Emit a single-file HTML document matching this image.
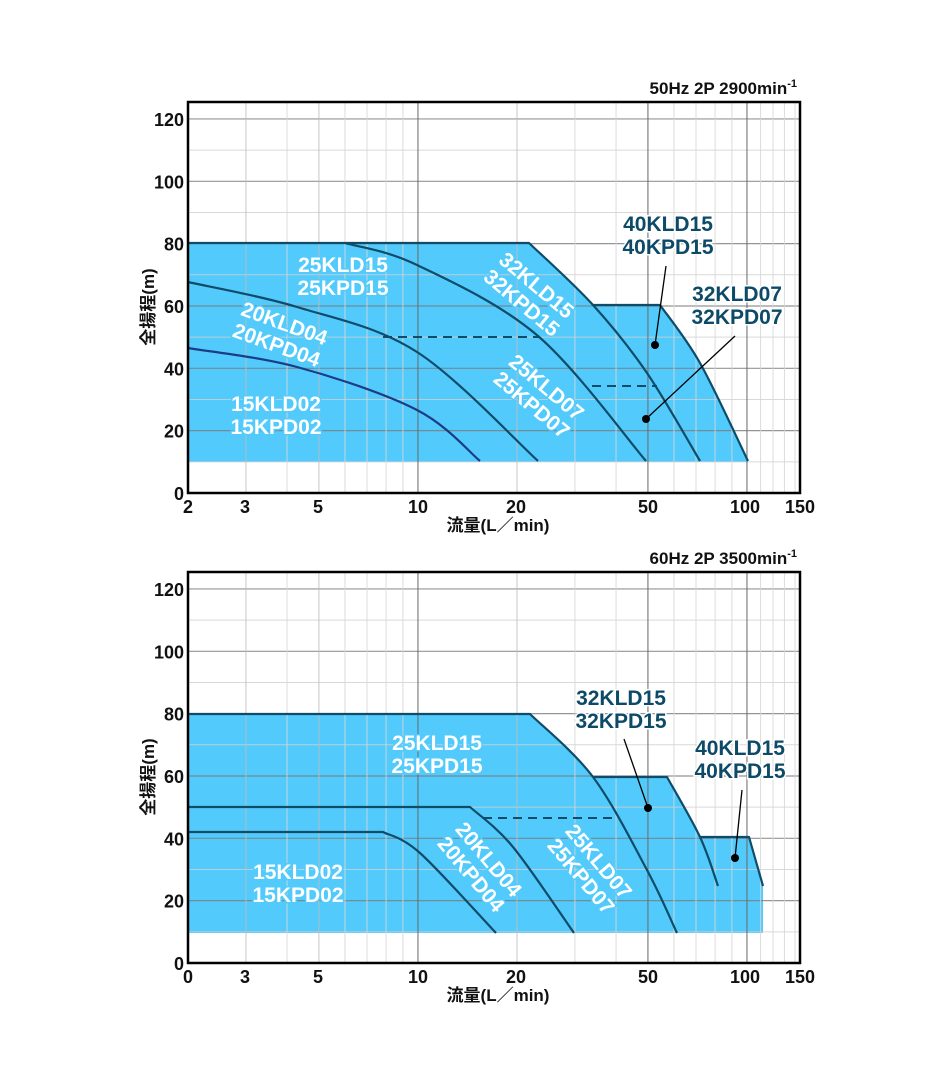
<!DOCTYPE html>
<html><head><meta charset="utf-8"><style>
html,body{margin:0;padding:0;background:#fff;}
svg{display:block;font-family:"Liberation Sans","Noto Sans CJK JP",sans-serif;font-weight:bold;}
</style></head><body>
<svg id="s" width="949" height="1078" viewBox="0 0 949 1078" xmlns="http://www.w3.org/2000/svg">
<g id="top"></g>
<g id="bot"></g>
</svg>
<script>
const NS="http://www.w3.org/2000/svg";
const S=document.getElementById('s');
function el(tag,attrs,parent,text){const e=document.createElementNS(NS,tag);for(const k in attrs)e.setAttribute(k,attrs[k]);if(text!==undefined)e.textContent=text;(parent||S).appendChild(e);return e;}
const X0=188,X1=800,K=329;
function xq(q){return X0+(Math.log10(q)-Math.log10(2))*K;}
function cr(pts,nseg){let d="";const n=nseg||pts.length-1;for(let i=0;i<n;i++){const p0=pts[Math.max(i-1,0)],p1=pts[i],p2=pts[i+1],p3=pts[Math.min(i+2,pts.length-1)];
const c1=[p1[0]+(p2[0]-p0[0])/6,p1[1]+(p2[1]-p0[1])/6],c2=[p2[0]-(p3[0]-p1[0])/6,p2[1]-(p3[1]-p1[1])/6];
d+=` C${c1[0].toFixed(1)},${c1[1].toFixed(1)} ${c2[0].toFixed(1)},${c2[1].toFixed(1)} ${p2[0]},${p2[1]}`;}return d;}
const FILL="#52cbfc",LINE="#0f4c6a",DARK="#0d4a68";
function grid(off,g){
  const y=v=>493+off-v*3.117;
  for(let v=10;v<=120;v+=10){const maj=v%20==0;el('line',{x1:X0,x2:X1,y1:y(v),y2:y(v),stroke:maj?'#7a7a7a':'#cfcfcf','stroke-width':maj?1.2:1,'stroke-opacity':0.8},g);}
  const qs=[3,4,5,6,7,8,9,10,20,30,40,50,60,70,80,90,100,110,120,130,140];
  for(const q of qs){const x=xq(q);if(x>X1)continue;const maj=(q==10||q==50||q==100);
    el('line',{x1:x,x2:x,y1:102+off,y2:493+off,stroke:maj?'#6a6a6a':(q==3||q==5||q==20)?'#bdbdbd':'#d6d6d6','stroke-width':maj?1.2:1,'stroke-opacity':0.85},g);}
}
function frame(off,g,title,first){
  const y=v=>493+off-v*3.117;
  el('rect',{x:X0,y:102+off,width:X1-X0,height:391,fill:'none',stroke:'#000','stroke-width':2.5},g);
  for(let v=0;v<=120;v+=20){el('text',{x:184,y:y(v)+7,'text-anchor':'end','font-size':18,fill:'#111'},g,String(v));}
  const xl=[[first,188],['3',245],['5',318],['10',418],['20',516],['50',648],['100',745],['150',800]];
  for(const [t,x] of xl)el('text',{x:x,y:513+off,'text-anchor':'middle','font-size':18,fill:'#111'},g,t);
  el('text',{x:498,y:531+off,'text-anchor':'middle','font-size':17,fill:'#111'},g,'流量(L／min)');
  el('text',{x:0,y:0,'text-anchor':'middle','font-size':17,fill:'#111',transform:`translate(154,${307+off}) rotate(-90)`},g,'全揚程(m)');
  const t=el('text',{x:797,y:94+off,'text-anchor':'end','font-size':17,fill:'#111'},g,title);
  el('tspan',{'font-size':11,dy:-7},t,'-1');
}
function lbl(g,x,y,l1,l2,rot,col){
  const bg=col=='#fff'?FILL:'#fff';
  const t=el('text',{'text-anchor':'middle','font-size':21,fill:col,stroke:bg,'stroke-width':3,'paint-order':'stroke',transform:`translate(${x},${y}) rotate(${rot})`},g);
  el('tspan',{x:0,y:-3},t,l1);el('tspan',{x:0,y:20},t,l2);
}
function path(g,d,color,w,extra){const a={d:d,fill:'none',stroke:color||LINE,'stroke-width':w||2.2,'stroke-linejoin':'round'};Object.assign(a,extra||{});el('path',a,g);}
function dot(g,x,y,x2,y2){el('line',{x1:x,y1:y,x2:x2,y2:y2,stroke:'#000','stroke-width':1.3},g);el('circle',{cx:x,cy:y,r:4,fill:'#000'},g);}

// ===== TOP =====
const T=document.getElementById('top');
const c32=[[529,243],[593,305],[647,373],[700,461]];
const outer=[[660,305],[700,363],[748,461]];
el('path',{d:`M188,243 L529,243`+cr(c32,1)+` L660,305`+cr(outer)+` L748,462 L188,462 Z`,fill:FILL},T);
grid(0,T);
path(T,`M188,243 L529,243`+cr(c32));
path(T,`M593,305 L660,305`+cr(outer));
path(T,'M188,348'+cr([[188,348],[297,367],[417,410],[480,461]]),'#1c3d86');
path(T,'M188,282'+cr([[188,282],[297,307],[417,352],[538,461]]));
path(T,'M345,243'+cr([[345,243],[417,265],[538,336],[646,461]]));
path(T,'M383,337 L540,337',LINE,2,{'stroke-dasharray':'9,6'});
path(T,'M592,386 L657,386',LINE,2,{'stroke-dasharray':'9,6'});
lbl(T,343,275,'25KLD15','25KPD15',0,'#fff');
lbl(T,281,333,'20KLD04','20KPD04',20,'#fff');
lbl(T,276,414,'15KLD02','15KPD02',0,'#fff');
lbl(T,530,293,'32KLD15','32KPD15',40,'#fff');
lbl(T,540,395,'25KLD07','25KPD07',40,'#fff');
lbl(T,668,234,'40KLD15','40KPD15',0,DARK);
lbl(T,737,304,'32KLD07','32KPD07',0,DARK);
dot(T,655,345,666,266);
dot(T,646,419,735,336);
frame(0,T,'50Hz 2P 2900min','2');

// ===== BOTTOM =====
const B=document.getElementById('bot');
const b32=[[530,714],[593,777],[647,870],[677,933]];
const bout=[[667,777],[700,837],[718,886]];
el('path',{d:`M188,714 L530,714`+cr(b32,1)+` L667,777`+cr(bout,1)+` L749,837 L763,886 L763,933 L188,933 Z`,fill:FILL},B);
grid(470,B);
path(B,`M188,714 L530,714`+cr(b32));
path(B,`M593,777 L667,777`+cr(bout));
path(B,'M700,837 L749,837 L763,886');
path(B,'M188,807 L470,807'+cr([[470,807],[513,847],[574,933]]));
path(B,'M188,832 L383,832'+cr([[383,832],[420,853],[496,933]]));
path(B,'M483,818 L617,818',LINE,2,{'stroke-dasharray':'9,6'});
lbl(B,437,753,'25KLD15','25KPD15',0,'#fff');
lbl(B,298,882,'15KLD02','15KPD02',0,'#fff');
lbl(B,481,866,'20KLD04','20KPD04',50,'#fff');
lbl(B,591,868,'25KLD07','25KPD07',50,'#fff');
lbl(B,621,708,'32KLD15','32KPD15',0,DARK);
lbl(B,740,758,'40KLD15','40KPD15',0,DARK);
dot(B,648,808,624,739);
dot(B,735,858,742,790);
frame(470,B,'60Hz 2P 3500min','0');
</script>
</body></html>
